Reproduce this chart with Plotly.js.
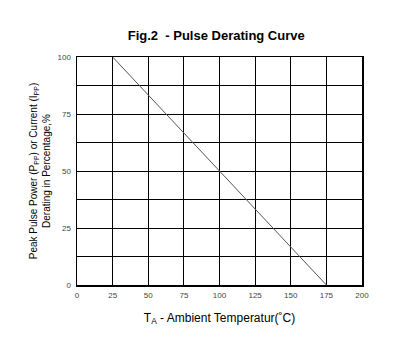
<!DOCTYPE html>
<html><head><meta charset="utf-8">
<script src="https://cdn.plot.ly/plotly-3.0.1.min.js"></script>
<style>html,body{margin:0;padding:0;background:#fff}#chart{width:408px;height:354px}</style>
</head><body><div id="chart"></div>
<script>
const tempC = [25, 175];
const deratingPct = [100, 0];
const xTickVals = [0, 25, 50, 75, 100, 125, 150, 175, 200];
const yTickVals = [0, 25, 50, 75, 100];
const yMinorVals = [12.5, 37.5, 62.5, 87.5];

const trace = {
  x: tempC, y: deratingPct, mode: 'lines', type: 'scatter',
  line: {color: '#555', width: 1}, hoverinfo: 'skip'
};
const layout = {
  width: 408, height: 354,
  margin: {l: 77, r: 46, t: 57, b: 69},
  paper_bgcolor: '#fff', plot_bgcolor: '#fff',
  showlegend: false,
  font: {family: 'Liberation Sans, Arial, sans-serif', color: '#000'},
  title: {text: '<b>Fig.2  - Pulse Derating Curve</b>', x: 0.53, xanchor: 'center', y: 0.9, yanchor: 'middle',
          font: {size: 13, color: '#000'}},
  xaxis: {
    range: [0, 200], tickvals: xTickVals, ticks: '', showgrid: true, gridcolor: '#000', gridwidth: 1,
    zeroline: false, showline: true, linecolor: '#000', linewidth: 1.5, mirror: true,
    tickfont: {size: 8, color: '#444'}, ticklabelstandoff: 2,
    title: {text: 'T<sub>A</sub> - Ambient Temperatur(˚C)', font: {size: 12, color: '#000'}, standoff: 14}
  },
  yaxis: {
    range: [0, 100], tickvals: yTickVals, ticks: '', showgrid: true, gridcolor: '#000', gridwidth: 1,
    minor: {tickvals: yMinorVals, showgrid: true, gridcolor: '#000', gridwidth: 1, ticks: ''},
    zeroline: false, showline: true, linecolor: '#000', linewidth: 1.5, mirror: true,
    tickfont: {size: 8, color: '#444'}, ticklabelstandoff: 3,
    title: {text: 'Peak Pulse Power (P<sub>PP</sub>) or Current (I<sub>PP</sub>)<br>Derating in Percentage,%', font: {size: 10, color: '#000'}, standoff: 5}
  }
};
Plotly.newPlot('chart', [trace], layout, {displayModeBar: false, staticPlot: true});
</script></body></html>
